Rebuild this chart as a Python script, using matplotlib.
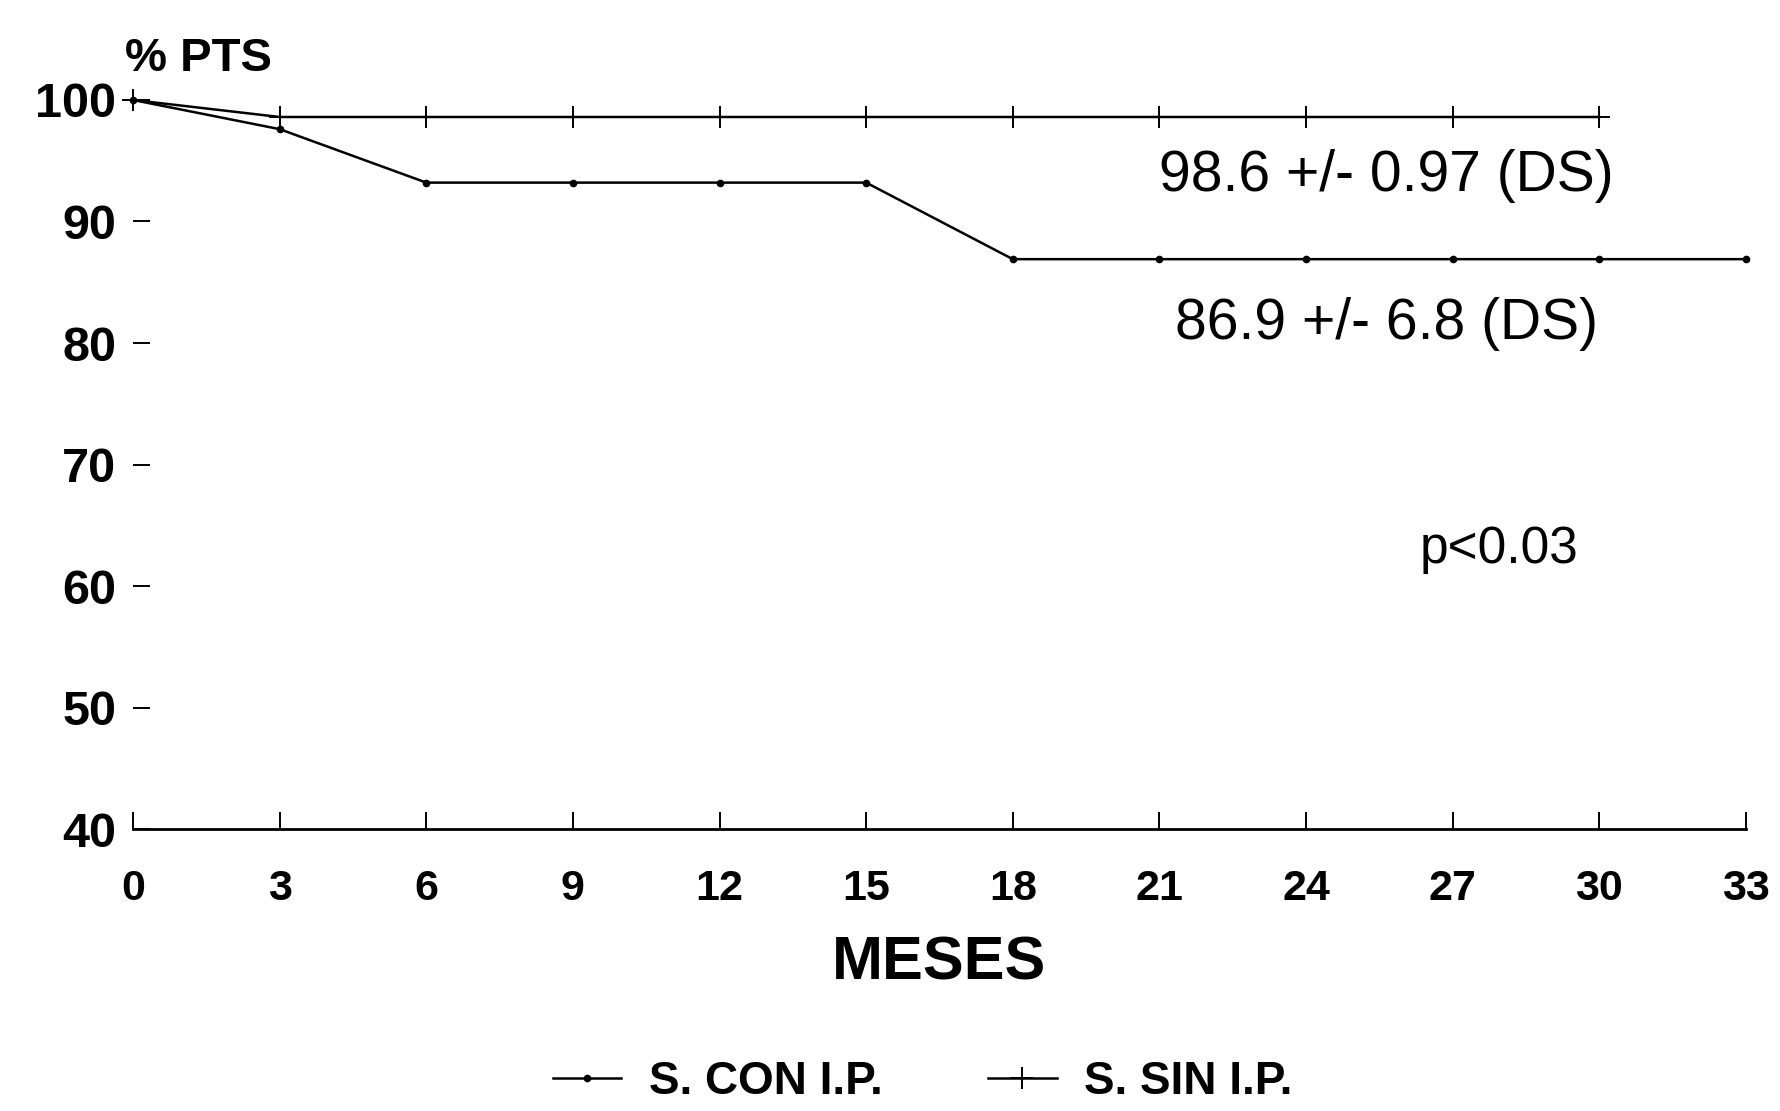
import numpy as np
import matplotlib
matplotlib.use('Agg')
import matplotlib.pyplot as plt

plt.rcParams['font.family'] = ['Liberation Sans', 'DejaVu Sans']

# Supervivencia (%) por meses de seguimiento
meses_con = [0, 3, 6, 9, 12, 15, 18, 21, 24, 27, 30, 33]
pts_con = [100, 97.6, 93.2, 93.2, 93.2, 93.2, 86.9, 86.9, 86.9, 86.9, 86.9, 86.9]

meses_sin = [0, 3, 6, 9, 12, 15, 18, 21, 24, 27, 30]
pts_sin = [100, 98.6, 98.6, 98.6, 98.6, 98.6, 98.6, 98.6, 98.6, 98.6, 98.6]

ticks_x = np.arange(0, 34, 3)
ticks_y = np.arange(40, 101, 10)

fig = plt.figure(figsize=(17.81, 11.11), dpi=100)
ax = fig.add_axes([0.0747, 0.2538, 0.9056, 0.6562])

ax.plot(meses_con, pts_con, color='black', lw=1.8, marker='o', ms=4.5,
        label='S. CON I.P.', clip_on=False)
ax.plot(meses_sin, pts_sin, color='black', lw=1.8, marker='+', ms=16, mew=1.4,
        label='S. SIN I.P.', clip_on=False)

ax.set_xlim(0, 33)
ax.set_ylim(40, 100)
ax.set_xticks(ticks_x)
ax.set_yticks(ticks_y)

for s in ['top', 'right', 'left']:
    ax.spines[s].set_visible(False)
ax.spines['bottom'].set_linewidth(2)

ax.tick_params(axis='x', direction='in', length=12, width=1.4, pad=29, labelsize=31)
ax.tick_params(axis='y', direction='in', length=12, width=1.4, pad=12, labelsize=35)
for lbl in ax.get_xticklabels() + ax.get_yticklabels():
    lbl.set_fontweight('bold')

ax.text(25.65, 93.75, '98.6 +/- 0.97 (DS)', fontsize=41, ha='center', va='center')
ax.text(25.65, 81.6, '86.9 +/- 6.8 (DS)', fontsize=41, ha='center', va='center')
ax.text(27.95, 63.0, 'p<0.03', fontsize=37, ha='center', va='center')

fig.text(0.070, 0.947, '% PTS', fontsize=34, fontweight='bold', ha='left', va='center')
fig.text(0.527, 0.132, 'MESES', fontsize=44, fontweight='bold', ha='center', va='center')

fig.legend(loc='center', bbox_to_anchor=(0.518, 0.026), ncol=2, frameon=False,
           prop={'size': 33, 'weight': 'bold'}, handlelength=1.5,
           handletextpad=0.6, columnspacing=2.3)

plt.savefig('out.png', dpi=100)
